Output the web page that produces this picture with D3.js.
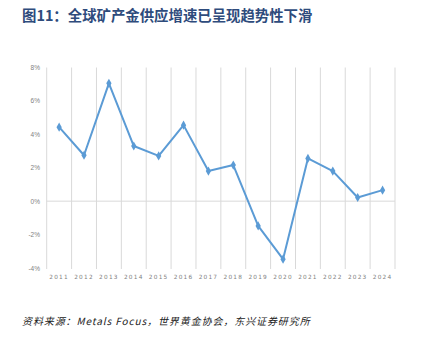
<!DOCTYPE html>
<html>
<head>
<meta charset="utf-8">
<script src="https://cdn.jsdelivr.net/npm/d3@7"></script>
<style>
  body { margin: 0; background: #fff; }
  svg { display: block; }
</style>
</head>
<body>
<svg id="chart" width="423" height="362"></svg>
<script>
// chart data
let years = ['2011','2012','2013','2014','2015','2016','2017','2018','2019','2020','2021','2022','2023','2024'];
let growth = [4.43, 2.75, 7.05, 3.3, 2.71, 4.55, 1.8, 2.16, -1.48, -3.47, 2.56, 1.8, 0.22, 0.66];
let yTicks = [-4, -2, 0, 2, 4, 6, 8];

let svg = d3.select('#chart');

svg.append('text')
  .attr('x', 22).attr('y', 21)
  .attr('font-family', 'Noto Sans CJK SC')
  .attr('font-size', 14.4).attr('font-weight', 'bold')
  .attr('fill', '#2e4b7c')
  .text('图11：全球矿产金供应增速已呈现趋势性下滑');

let x = d3.scaleBand().domain(years).range([46.7, 395]);
let y = d3.scaleLinear().domain([-4, 8]).range([268, 67.5]);

// vertical gridlines at category boundaries
let bounds = years.map(d => x(d)).concat([x.range()[1]]);
svg.append('g').selectAll('line').data(bounds).join('line')
  .attr('x1', d => d).attr('x2', d => d)
  .attr('y1', y(8)).attr('y2', y(-4) + 1)
  .attr('stroke', '#d9d9d9').attr('stroke-width', 1);

// zero line
svg.append('line')
  .attr('x1', x.range()[0]).attr('x2', x.range()[1])
  .attr('y1', y(0)).attr('y2', y(0))
  .attr('stroke', '#d9d9d9').attr('stroke-width', 1);

// y labels
svg.append('g').selectAll('text').data(yTicks).join('text')
  .attr('x', 40).attr('y', d => y(d) + 2.5)
  .attr('text-anchor', 'end')
  .attr('font-family', 'Liberation Sans').attr('font-size', 6.5)
  .attr('fill', '#7f7f7f')
  .text(d => d + '%');

// x labels
svg.append('g').selectAll('text').data(years).join('text')
  .attr('x', d => x(d) + x.bandwidth() / 2).attr('y', 279)
  .attr('text-anchor', 'middle')
  .attr('font-family', 'DejaVu Sans').attr('font-size', 5.8)
  .attr('letter-spacing', 1.2)
  .attr('fill', '#7f7f7f')
  .text(d => d);

let line = d3.line()
  .x((d, i) => x(years[i]) + x.bandwidth() / 2)
  .y(d => y(d));

svg.append('path').datum(growth)
  .attr('d', line)
  .attr('fill', 'none')
  .attr('stroke', '#5b9bd5').attr('stroke-width', 2)
  .attr('stroke-linejoin', 'round');

svg.append('g').selectAll('path').data(growth).join('path')
  .attr('transform', (d, i) => `translate(${x(years[i]) + x.bandwidth() / 2},${y(d)})`)
  .attr('d', d3.symbol(d3.symbolDiamond, 24))
  .attr('fill', '#5b9bd5');

// source
svg.append('text')
  .attr('x', 22).attr('y', 325)
  .attr('font-family', 'Noto Sans CJK SC')
  .attr('font-size', 10).attr('font-style', 'italic')
  .attr('letter-spacing', 0.9)
  .attr('fill', '#222')
  .text('资料来源：Metals Focus，世界黄金协会，东兴证券研究所');
</script>
</body>
</html>
